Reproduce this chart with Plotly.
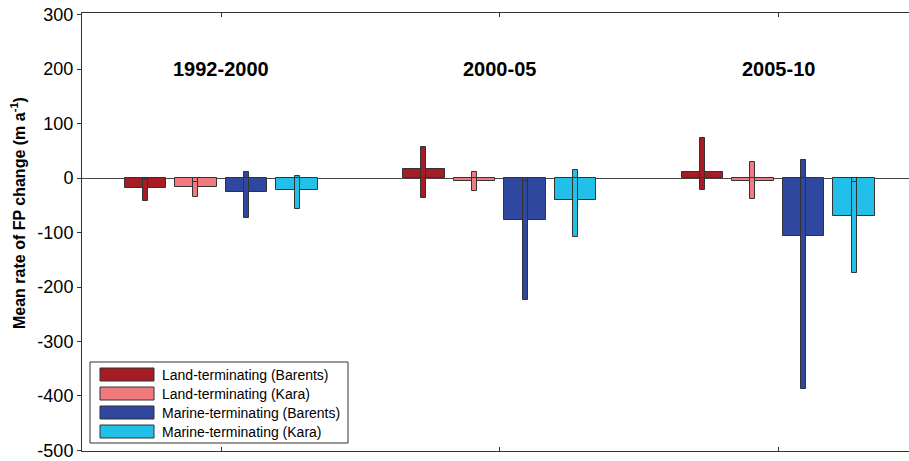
import plotly.graph_objects as go

# ---- data ----
periods = ["1992-2000", "2000-05", "2005-10"]
period_pos = [1, 2, 3]
series_names = [
    "Land-terminating (Barents)",
    "Land-terminating (Kara)",
    "Marine-terminating (Barents)",
    "Marine-terminating (Kara)",
]
means = [
    [-18, 16, 12],
    [-16, -5, -5],
    [-26, -77, -106],
    [-21, -40, -70],
]
err_high = [
    [-2, 57, 74],
    [-7, 11, 29],
    [12, -5, 34],
    [3, 14, -8],
]
err_low = [
    [-42, -37, -21],
    [-34, -23, -38],
    [-74, -224, -387],
    [-56, -109, -175],
]
colors = ["#A61C24", "#F07A7E", "#2F479E", "#22C0E8"]
yticks = [300, 200, 100, 0, -100, -200, -300, -400, -500]

# ---- layout params ----
W, H = 909, 461
ML, MR, MT, MB = 82, 0, 13, 10
PW, PH = W - ML - MR, H - MT - MB
bar_w = 0.149
step = 0.1815
err_w = 0.018
edge = dict(color="#333333", width=1)
FONT = "Liberation Sans, Arial, sans-serif"


def px_x(px):
    return (px - ML) / PW


def px_y(py):
    return (H - MB - py) / PH


fig = go.Figure()

for i, name in enumerate(series_names):
    center = (i - 1.5) * step
    fig.add_trace(go.Bar(
        x=period_pos, y=means[i], name=name,
        width=bar_w, offset=center - bar_w / 2,
        marker=dict(color=colors[i], line=edge),
        showlegend=False,
    ))

for i, name in enumerate(series_names):
    center = (i - 1.5) * step
    for vals in (err_low[i], err_high[i]):
        fig.add_trace(go.Bar(
            x=period_pos, y=vals, name=name,
            width=err_w, offset=center - err_w / 2,
            marker=dict(color=colors[i], line=edge),
            showlegend=False, hoverinfo="skip",
        ))

for p, label in zip(period_pos, periods):
    fig.add_annotation(x=p, y=200, text="<b>%s</b>" % label, showarrow=False,
                       font=dict(size=20, color="black", family=FONT))

# y-axis title
fig.add_annotation(
    xref="paper", yref="paper", x=px_x(18), y=px_y(213),
    text="<b>Mean rate of FP change (m a<sup>-1</sup>)</b>", textangle=-90,
    showarrow=False, font=dict(size=16, color="black", family=FONT),
    xanchor="center", yanchor="middle",
)

# legend (drawn as boxes + text)
fig.add_shape(type="rect", xref="paper", yref="paper",
              x0=px_x(90), x1=px_x(348), y0=px_y(443), y1=px_y(362),
              line=dict(color="#333333", width=1), fillcolor="white", layer="above")
item_centers = [374.5, 393.5, 412.5, 431.5]
for i, name in enumerate(series_names):
    cy = item_centers[i]
    fig.add_shape(type="rect", xref="paper", yref="paper",
                  x0=px_x(100), x1=px_x(154), y0=px_y(cy + 6.5), y1=px_y(cy - 6.5),
                  line=dict(color="#333333", width=1), fillcolor=colors[i], layer="above")
    fig.add_annotation(xref="paper", yref="paper", x=px_x(160), y=px_y(cy),
                       text=name, showarrow=False, xanchor="left", yanchor="middle",
                       font=dict(size=14, color="black", family=FONT))

fig.update_layout(
    width=W, height=H,
    margin=dict(l=ML, r=MR, t=MT, b=MB),
    barmode="overlay",
    bargap=0,
    plot_bgcolor="white",
    paper_bgcolor="white",
    font=dict(family=FONT, color="black", size=16),
    showlegend=False,
)

fig.update_xaxes(
    range=[0.5, 0.5 + PW / 278.5],
    tickvals=period_pos, showticklabels=False,
    ticks="inside", ticklen=4, tickcolor="#333333",
    showline=True, linecolor="#333333", linewidth=1, mirror="ticks",
    showgrid=False, zeroline=False, automargin=False,
)
fig.update_yaxes(
    range=[-501, 303],
    tickvals=yticks, ticktext=[str(v) for v in yticks],
    ticks="outside", ticklen=4, tickcolor="#333333",
    tickfont=dict(size=18),
    ticklabeloverflow="allow",
    showline=True, linecolor="#333333", linewidth=1,
    showgrid=False,
    zeroline=True, zerolinecolor="#444444", zerolinewidth=1,
    automargin=False,
)

fig.write_html(
    "out.html",
    config={"displayModeBar": False},
    post_script="document.body.style.margin='0';document.body.style.overflow='hidden';",
)
